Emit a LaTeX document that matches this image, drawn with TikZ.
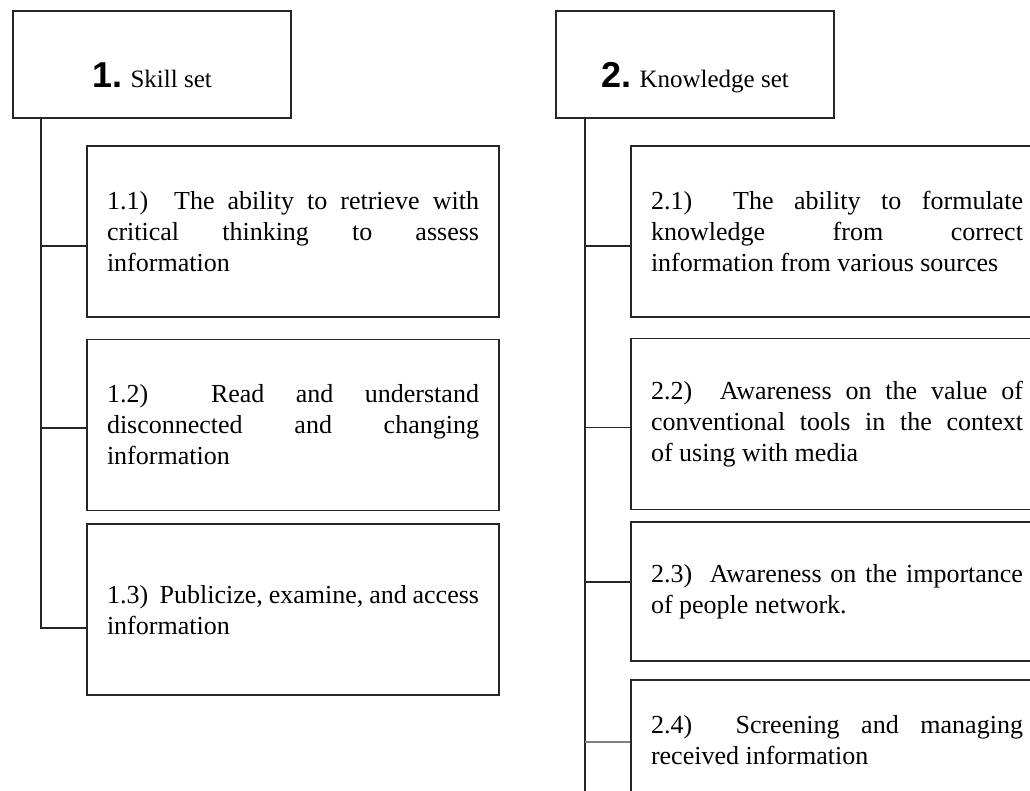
\documentclass[tikz,border=0pt]{standalone}
\usepackage{fontspec}
\setmainfont{Liberation Serif}
\newfontfamily\numfont{Liberation Sans}
\usepackage{tikz}
\usetikzlibrary{positioning}
\tolerance=10000
\hbadness=10000
\tikzset{head/.style={draw=black!85,line width=1.6pt,
        minimum width=278pt,minimum height=107pt},
    headtext/.style={inner sep=0pt,font=\fontsize{25}{30}\selectfont},
    item/.style={draw=black!85,line width=1.6pt,text width=372pt,
        inner xsep=20pt,minimum height=171pt,align=justify,
        font=\fontsize{26}{31}\selectfont},
    link/.style={draw=black!85,line width=1.6pt},
    faint/.style={draw=black!50,line width=1.6pt}}
\newcommand{\setnum}[1]{{\numfont\bfseries\fontsize{36}{40}\selectfont #1}}

\begin{document}
\begin{tikzpicture}[x=1pt,y=-1pt]
\useasboundingbox (0,0) rectangle (1030,791);
\clip (0,0) rectangle (1030,791);
% skill set
\node[head] (h1) at (152,64.5) {};
\node[headtext,anchor=base] (t1) at ([yshift=-23pt]h1.center) {\setnum{1.} Skill set};
\node[item] (b11) at (293,231.5) {1.1)~ The ability to retrieve with\linebreak critical thinking to assess\linebreak information};
\node[item,below=21pt of b11] (b12) {1.2)~ Read and understand\linebreak disconnected and changing\linebreak information};
\node[item,below=12pt of b12] (b13) {1.3)~ Publicize, examine, and access\linebreak information};
% knowledge set
\node[head] (h2) at (695,64.5) {};
\node[headtext,anchor=base] (t2) at ([yshift=-23pt]h2.center) {\setnum{2.} Knowledge set};
\node[item] (b21) at (837,231.5) {2.1)~ The ability to formulate\linebreak knowledge from correct\linebreak information from various sources};
\node[item,below=20pt of b21] (b22) {2.2)~ Awareness on the value of\linebreak conventional tools in the context\linebreak of using with media};
\node[item,below=11pt of b22,minimum height=139pt] (b23) {2.3)~ Awareness on the importance\linebreak of people network.};
\node[item,below=17pt of b23,minimum height=120pt] (b24) {2.4)~ Screening and managing\linebreak received information};
% trunks
\coordinate (k1) at ([xshift=29pt]h1.south west);
\coordinate (k2) at ([xshift=30pt]h2.south west);
\coordinate (p11) at ([yshift=-14.5pt]b11.west);
\coordinate (p12) at ([yshift=-3pt]b12.west);
\coordinate (p13) at ([yshift=-18.5pt]b13.west);
\coordinate (p21) at ([yshift=-14.5pt]b21.west);
\coordinate (p22) at ([yshift=-3.5pt]b22.west);
\coordinate (p23) at ([yshift=9.5pt]b23.west);
\coordinate (p24) at ([yshift=-2pt]b24.west);
\draw[link] (k1) |- (p13);
\foreach \p in {p11,p12}
    \draw[link] (k1 |- \p) -- (\p);
\draw[link] (k2) -- (k2 |- b24.south);
\foreach \p in {p21,p22,p23}
    \draw[link] (k2 |- \p) -- (\p);
\draw[faint] (k2 |- p24) -- (p24);
\end{tikzpicture}
\end{document}
